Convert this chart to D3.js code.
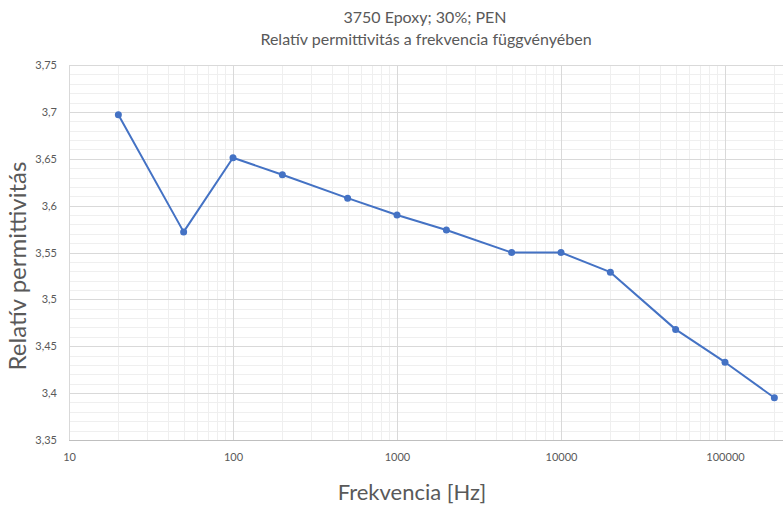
<!DOCTYPE html>
<html>
<head>
<meta charset="utf-8">
<script src="https://cdn.jsdelivr.net/npm/d3@7"></script>
<style>
  html, body { margin: 0; padding: 0; background: #fff; }
  svg { display: block; font-family: Lato, "Open Sans", sans-serif; }
</style>
</head>
<body>
<svg id="chart" width="783" height="506"></svg>
<script>
const frequencies = [20, 50, 100, 200, 500, 1000, 2000, 5000, 10000, 20000, 50000, 100000, 200000];
const permittivity = [3.697, 3.572, 3.651, 3.633, 3.608, 3.590, 3.574, 3.550, 3.550, 3.529, 3.468, 3.433, 3.395];
const yTicks = [3.35, 3.4, 3.45, 3.5, 3.55, 3.6, 3.65, 3.7, 3.75];
const xTicks = [10, 100, 1000, 10000, 100000];
const titleLines = ["3750 Epoxy; 30%; PEN", "Relatív permittivitás a frekvencia függvényében"];
const xTitle = "Frekvencia [Hz]";
const yTitle = "Relatív permittivitás";

const svg = d3.select("#chart");
const pLeft = 69, pTop = 65, pBottom = 440, decade = 164;
const x = d3.scaleLog().domain([10, 1e6]).range([pLeft, pLeft + 5 * decade]);
const y = d3.scaleLinear().domain([3.35, 3.75]).range([pBottom, pTop]);

const g = svg.append("g");
// minor vertical grid
const minorX = [];
for (let e = 1; e < 6; e++) for (let m = 2; m <= 9; m++) minorX.push(m * Math.pow(10, e));
g.selectAll(".mvx").data(minorX).join("line")
  .attr("x1", d => Math.round(x(d)) + 0.5).attr("x2", d => Math.round(x(d)) + 0.5).attr("y1", pTop).attr("y2", pBottom)
  .attr("stroke", "#efefef").attr("stroke-width", 1);
// minor horizontal grid
const minorY = d3.range(0, 41).map(i => 3.35 + i * 0.01).filter((d, i) => i % 5 !== 0);
g.selectAll(".mhy").data(minorY).join("line")
  .attr("x1", pLeft).attr("x2", 783).attr("y1", d => Math.round(y(d)) + 0.5).attr("y2", d => Math.round(y(d)) + 0.5)
  .attr("stroke", "#efefef").attr("stroke-width", 1);
// major grid
g.selectAll(".vx").data(xTicks.concat([1e6])).join("line")
  .attr("x1", d => Math.round(x(d)) + 0.5).attr("x2", d => Math.round(x(d)) + 0.5).attr("y1", pTop).attr("y2", pBottom)
  .attr("stroke", "#d9d9d9").attr("stroke-width", 1);
g.selectAll(".hy").data(yTicks).join("line")
  .attr("x1", pLeft).attr("x2", 783).attr("y1", d => Math.round(y(d)) + 0.5).attr("y2", d => Math.round(y(d)) + 0.5)
  .attr("stroke", d => d === 3.35 ? "#bfbfbf" : "#d9d9d9").attr("stroke-width", 1);

// axes labels via d3 axes
const yAxis = d3.axisLeft(y).tickValues(yTicks).tickSize(0).tickPadding(0)
  .tickFormat(d => String(+d.toFixed(2)).replace(".", ","));
svg.append("g").attr("transform", `translate(${pLeft - 12},0)`).call(yAxis)
  .call(a => a.select(".domain").remove())
  .selectAll("text").attr("fill", "#595959").style("font-size", "11px").style("font-family", "Lato, sans-serif");

const xAxis = d3.axisBottom(x).tickValues(xTicks).tickSize(0).tickPadding(0).tickFormat(d3.format("d"));
svg.append("g").attr("transform", `translate(0,${pBottom + 13})`).call(xAxis)
  .call(a => a.select(".domain").remove())
  .selectAll("text").attr("fill", "#595959").style("font-size", "11px").style("font-family", "Lato, sans-serif");

// line
const data = frequencies.map((f, i) => ({ f, v: permittivity[i] }));
svg.append("path").datum(data)
  .attr("fill", "none").attr("stroke", "#4472C4").attr("stroke-width", 2).attr("stroke-linejoin", "round")
  .attr("d", d3.line().x(d => x(d.f)).y(d => y(d.v)));
svg.selectAll(".pt").data(data).join("circle")
  .attr("cx", d => x(d.f)).attr("cy", d => y(d.v)).attr("r", 3.5).attr("fill", "#4472C4");

// titles
svg.append("text").attr("x", 425).attr("y", 23).attr("text-anchor", "middle")
  .attr("fill", "#595959").style("font-size", "16px").text(titleLines[0]);
svg.append("text").attr("x", 426).attr("y", 45).attr("text-anchor", "middle")
  .attr("fill", "#595959").style("font-size", "16px").text(titleLines[1]);
svg.append("text").attr("x", 412).attr("y", 500).attr("text-anchor", "middle")
  .attr("fill", "#595959").style("font-size", "22px").text(xTitle);
svg.append("text").attr("transform", "translate(26,266) rotate(-90)").attr("text-anchor", "middle")
  .attr("fill", "#595959").style("font-size", "24px").text(yTitle);
</script>
</body>
</html>
